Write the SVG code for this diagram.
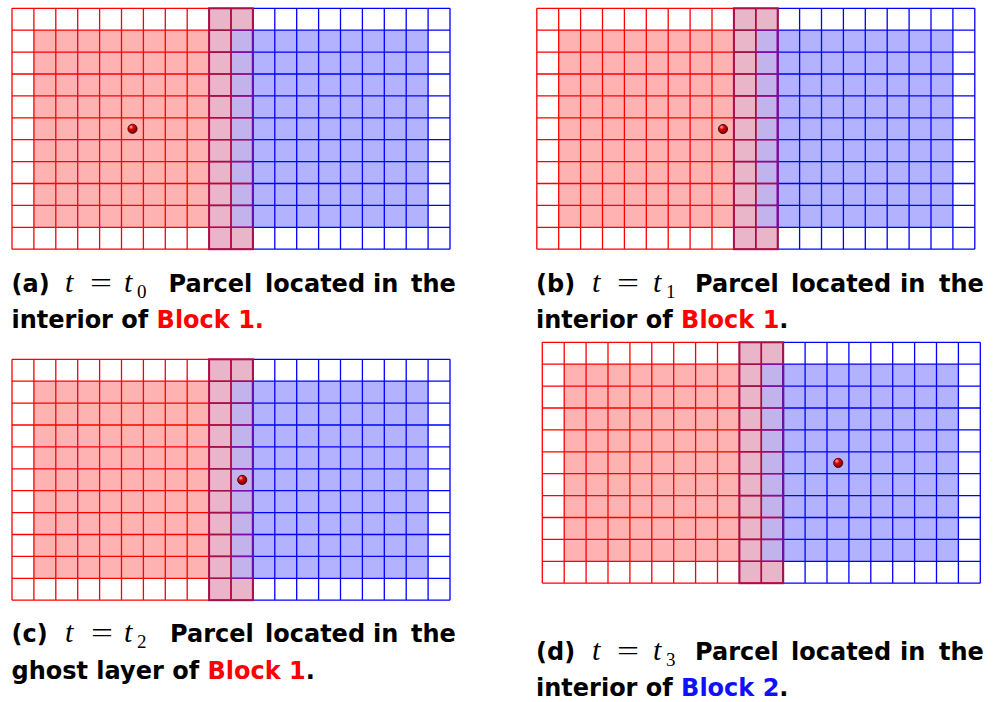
<svg xmlns="http://www.w3.org/2000/svg" xmlns:xlink="http://www.w3.org/1999/xlink" width="994" height="702" viewBox="0 0 994 702">
<style>
.cap{font-family:"DejaVu Sans","Liberation Sans",sans-serif;font-weight:bold;font-size:24px;fill:#000}
.mi{font-family:"Liberation Serif","DejaVu Serif",serif;font-style:italic;font-size:30px;fill:#000}
.mr{font-family:"Liberation Serif","DejaVu Serif",serif;font-size:28px;fill:#000}
.sub{font-family:"Liberation Serif","DejaVu Serif",serif;font-size:19px;fill:#000}
.red{fill:#ff0000}
.blue{fill:#1010ff}
.rg{stroke:#ff0000;stroke-width:1.3;fill:none}
.bg{stroke:#0000ff;stroke-width:1.3;fill:none}
</style>
<defs>
<radialGradient id="ball" cx="0.35" cy="0.3" r="0.75">
<stop offset="0" stop-color="#ffb0b0"/>
<stop offset="0.35" stop-color="#e00000"/>
<stop offset="1" stop-color="#700000"/>
</radialGradient>
<g id="grid">
<rect x="21.9" y="21.9" width="175.2" height="197.1" fill="#ffb2b2"/>
<rect x="240.9" y="21.9" width="175.2" height="197.1" fill="#b2b2ff"/>
<rect x="197.1" y="0" width="43.8" height="240.9" fill="#e9b5c8"/>
<rect x="219" y="21.9" width="21.9" height="197.1" fill="#c3b3ec"/>
<path class="rg" d="M0 0V240.9M21.9 0V240.9M43.8 0V240.9M65.7 0V240.9M87.6 0V240.9M109.5 0V240.9M131.4 0V240.9M153.3 0V240.9M175.2 0V240.9M197.1 0V240.9M219 0V240.9M240.9 0V240.9M0 0H240.9M0 21.9H240.9M0 43.8H240.9M0 65.7H240.9M0 87.6H240.9M0 109.5H240.9M0 131.4H240.9M0 153.3H240.9M0 175.2H240.9M0 197.1H240.9M0 219H240.9M0 240.9H240.9"/>
<path class="bg" d="M240.9 0V240.9M262.8 0V240.9M284.7 0V240.9M306.6 0V240.9M328.5 0V240.9M350.4 0V240.9M372.3 0V240.9M394.2 0V240.9M416.1 0V240.9M438 0V240.9M240.9 0H438M240.9 21.9H438M240.9 43.8H438M240.9 65.7H438M240.9 87.6H438M240.9 109.5H438M240.9 131.4H438M240.9 153.3H438M240.9 175.2H438M240.9 197.1H438M240.9 219H438M240.9 240.9H438"/>
<path fill="none" stroke="#a0104e" stroke-width="1.6" d="M197.1 21.9H219M197.1 43.8H219M197.1 65.7H219M197.1 87.6H219M197.1 109.5H219M197.1 131.4H219M197.1 153.3H219M197.1 175.2H219M197.1 197.1H219M197.1 219H219M219 0V240.9"/>
<path fill="none" stroke="#7c10a4" stroke-width="1.6" d="M219 21.9H240.9M219 43.8H240.9M219 65.7H240.9M219 87.6H240.9M219 109.5H240.9M219 131.4H240.9M219 153.3H240.9M219 175.2H240.9M219 197.1H240.9M219 219H240.9"/>
<rect x="197.1" y="0" width="43.8" height="240.9" fill="none" stroke="#a8104c" stroke-width="2"/>
<path fill="none" stroke="#6010c0" stroke-width="2" d="M240.9 21.9V219"/>
</g>
</defs>

<g id="panel-a">
<use xlink:href="#grid" transform="translate(12,8.3)"/>
<circle cx="132.5" cy="128.8" r="4.6" fill="url(#ball)" stroke="#300000" stroke-width="0.8"/>
<g id="caption-a">
<text class="cap" x="11.5" y="291.5">(a)</text>
<text class="mi" x="65" y="291.5">t</text>
<text class="mr" x="90" y="291.5" textLength="22" lengthAdjust="spacingAndGlyphs">=</text>
<text class="mi" x="124" y="291.5">t</text>
<text class="sub" x="137" y="297.5">0</text>
<text class="cap" x="168.5" y="291.5">Parcel</text>
<text class="cap" x="265" y="291.5">located</text>
<text class="cap" x="373" y="291.5">in</text>
<text class="cap" x="411" y="291.5">the</text>
<text class="cap" x="11.5" y="328">interior of <tspan class="red">Block 1.</tspan></text>
</g>
</g>

<g id="panel-b">
<use xlink:href="#grid" transform="translate(536.8,8.3)"/>
<circle cx="723" cy="129" r="4.6" fill="url(#ball)" stroke="#300000" stroke-width="0.8"/>
<g id="caption-b">
<text class="cap" x="536" y="291.5">(b)</text>
<text class="mi" x="592" y="291.5">t</text>
<text class="mr" x="617" y="291.5" textLength="22" lengthAdjust="spacingAndGlyphs">=</text>
<text class="mi" x="653" y="291.5">t</text>
<text class="sub" x="666" y="297.5">1</text>
<text class="cap" x="695" y="291.5">Parcel</text>
<text class="cap" x="791" y="291.5">located</text>
<text class="cap" x="900" y="291.5">in</text>
<text class="cap" x="939" y="291.5">the</text>
<text class="cap" x="536" y="328">interior of <tspan class="red">Block 1</tspan>.</text>
</g>
</g>

<g id="panel-c">
<use xlink:href="#grid" transform="translate(12,359.3)"/>
<circle cx="242.2" cy="479.9" r="4.6" fill="url(#ball)" stroke="#300000" stroke-width="0.8"/>
<g id="caption-c">
<text class="cap" x="11.5" y="641.5">(c)</text>
<text class="mi" x="65" y="641.5">t</text>
<text class="mr" x="91" y="641.5" textLength="22" lengthAdjust="spacingAndGlyphs">=</text>
<text class="mi" x="124" y="641.5">t</text>
<text class="sub" x="137" y="647.5">2</text>
<text class="cap" x="170" y="641.5">Parcel</text>
<text class="cap" x="265" y="641.5">located</text>
<text class="cap" x="373" y="641.5">in</text>
<text class="cap" x="411" y="641.5">the</text>
<text class="cap" x="11.5" y="678.5">ghost layer of <tspan class="red">Block 1</tspan>.</text>
</g>
</g>

<g id="panel-d">
<use xlink:href="#grid" transform="translate(542.3,342.3)"/>
<circle cx="838.2" cy="462.9" r="4.6" fill="url(#ball)" stroke="#300000" stroke-width="0.8"/>
<g id="caption-d">
<text class="cap" x="536" y="659.5">(d)</text>
<text class="mi" x="592" y="659.5">t</text>
<text class="mr" x="617" y="659.5" textLength="22" lengthAdjust="spacingAndGlyphs">=</text>
<text class="mi" x="653" y="659.5">t</text>
<text class="sub" x="666" y="665.5">3</text>
<text class="cap" x="695" y="659.5">Parcel</text>
<text class="cap" x="791" y="659.5">located</text>
<text class="cap" x="900" y="659.5">in</text>
<text class="cap" x="939" y="659.5">the</text>
<text class="cap" x="536" y="696">interior of <tspan class="blue">Block 2</tspan>.</text>
</g>
</g>
</svg>
